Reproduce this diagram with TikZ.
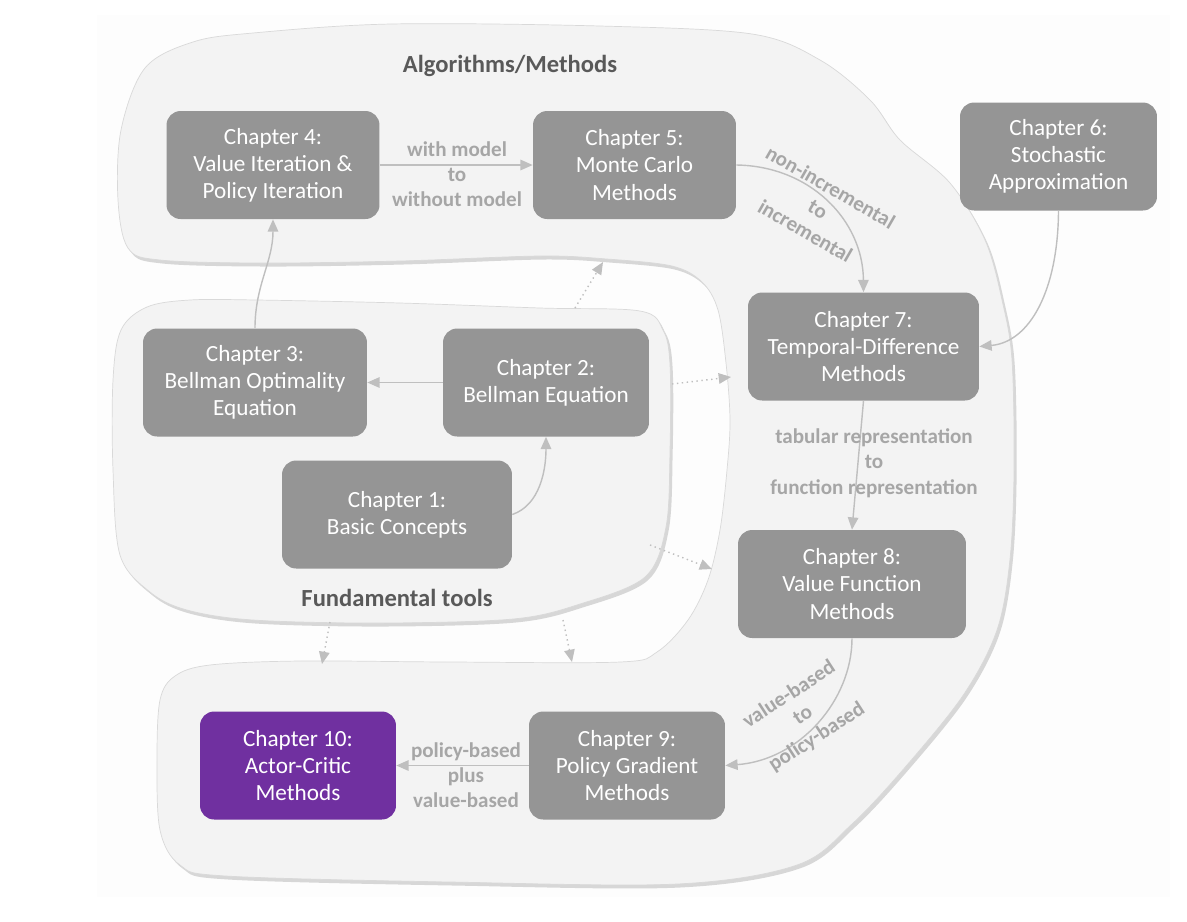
\documentclass[tikz,border=0pt]{standalone}
\usepackage{fontspec}
\setmainfont{Carlito}
\usepackage{xcolor}
\usetikzlibrary{arrows.meta,shadows}
\definecolor{boxgray}{HTML}{959595}
\definecolor{linegray}{HTML}{BFBFBF}
\definecolor{labelgray}{HTML}{A6A6A6}
\definecolor{headgray}{HTML}{595959}
\definecolor{blobgray}{HTML}{F3F3F3}
\definecolor{acpurple}{HTML}{7030A0}

\begin{document}
\begin{tikzpicture}[x=0.02cm,y=-0.02cm,
  chapter/.style={rectangle,rounded corners=8pt,fill=boxgray,text=white,align=center,
    minimum height=2.16cm,inner sep=2pt,font=\fontsize{13.2}{15.4}\selectfont},
  flow/.style={draw=linegray,line width=0.8pt,-{Triangle[length=7pt,width=6pt]}},
  hint/.style={draw=linegray,line width=0.8pt,dotted,-{Triangle[length=7pt,width=6pt]}},
  edgetext/.style={text=labelgray,align=center,font=\bfseries\fontsize{12}{14.4}\selectfont},
  blob/.style={fill=blobgray,draw=black!15,line width=0.4pt,
    drop shadow={shadow xshift=1.5pt,shadow yshift=-2pt,opacity=.3}},
  grouptitle/.style={text=headgray,font=\bfseries\fontsize{14}{16}\selectfont}]
  \useasboundingbox (0,0) rectangle (1187,921);
  \fill[black!0.6] (97,15) rectangle (1170,897);

  % algorithms / methods band
  \path[blob] plot[smooth cycle,tension=.55] coordinates {
    (118,200) (121,130) (145,68) (193,42) (253,33) (391,24) (600,26) (752,34)
    (820,60) (870,100) (900,140) (950,183) (985,240) (1002,300) (1012,360)
    (1014,470) (1010,559) (997,630) (964,694) (907,765) (852,824) (797,865)
    (677,884) (451,882) (226,876) (180,865) (160,830) (157,760) (160,700)
    (175,676) (210,665) (300,661) (450,662) (620,662) (657,652) (688,620)
    (708,580) (720,530) (727,470) (730,420) (726,363) (718,310) (702,282)
    (672,266) (607,259) (540,256) (400,261) (263,263) (160,260) (128,248)};
  % fundamental tools
  \path[blob] plot[smooth cycle,tension=.55] coordinates {
    (113,380) (121,330) (147,307) (190,300) (257,300) (400,303) (540,308)
    (640,311) (663,330) (670,365) (670,450) (666,527) (645,577) (580,604)
    (513,619) (380,623) (253,620) (187,610) (150,592) (120,555) (113,470)};

  \node[grouptitle] (algo) at (510,66) {Algorithms/Methods};
  \node[grouptitle] (fund) at (397,598) {Fundamental tools};

  \node[chapter,minimum width=4.26cm] (ch4) at (273,165) {Chapter 4:\\Value Iteration \&\\Policy Iteration};
  \node[chapter,minimum width=4.06cm] (ch5) at (634.5,165) {Chapter 5:\\Monte Carlo\\Methods};
  \node[chapter,minimum width=3.94cm] (ch6) at (1058.5,156.5) {Chapter 6:\\Stochastic\\Approximation};
  \node[chapter,minimum width=4.62cm] (ch7) at (863.5,346.5) {Chapter 7:\\Temporal-Difference\\Methods};
  \node[chapter,minimum width=4.48cm] (ch3) at (255,382.5) {Chapter 3:\\Bellman Optimality\\Equation};
  \node[chapter,minimum width=4.12cm] (ch2) at (546,382.5) {Chapter 2:\\Bellman Equation};
  \node[chapter,minimum width=4.6cm] (ch1) at (397,514.5) {Chapter 1:\\Basic Concepts};
  \node[chapter,minimum width=4.56cm] (ch8) at (852,584) {Chapter 8:\\Value Function\\Methods};
  \node[chapter,minimum width=3.92cm] (ch9) at (627,765.5) {Chapter 9:\\Policy Gradient\\Methods};
  \node[chapter,minimum width=3.92cm,fill=acpurple] (ch10) at (298,765.5) {Chapter 10:\\Actor-Critic\\Methods};

  \draw[flow] (ch1.east) .. controls (540,505) and (546,470) .. (ch2.south);
  \draw[flow] (ch2.west) -- (ch3.east);
  \draw[flow] (ch3.north) .. controls (255,285) and (273,262) .. (ch4.south);
  \draw[flow] (ch4.east) -- (ch5.west);
  \node[edgetext] (lbl45) at (457,174) {with model\\to\\without model};
  \draw[flow] (ch5.east) .. controls (810,166) and (863,220) .. (ch7.north);
  \node[edgetext,rotate=-30] (lbl57) at (818,209) {non-incremental\\to\\incremental};
  \draw[flow] (ch6.south) .. controls (1058,290) and (1030,342) .. (ch7.east);
  \draw[flow] (ch7.south) -- (ch8.north);
  \node[edgetext] (lbl78) at (874,463) {tabular representation\\to\\function representation};
  \draw[flow] (ch8.south) .. controls (852,700) and (800,760) .. (ch9.east);
  \node[edgetext,rotate=33] (lbl89) at (803,716) {value-based\\to\\policy-based};
  \draw[flow] (ch9.west) -- (ch10.east);
  \node[edgetext] (lbl910) at (466,775) {policy-based\\plus\\value-based};

  \coordinate (ft1) at (575,308); \coordinate (am1) at (603,262);
  \coordinate (ft2) at (672,384); \coordinate (am2) at (731,377);
  \coordinate (ft3) at (650,545); \coordinate (am3) at (712,569);
  \coordinate (ft4) at (330,622); \coordinate (am4) at (322,664);
  \coordinate (ft5) at (563,620); \coordinate (am5) at (572,662);
  \foreach \i in {1,...,5}
    \draw[hint] (ft\i) -- (am\i);
\end{tikzpicture}
\end{document}
